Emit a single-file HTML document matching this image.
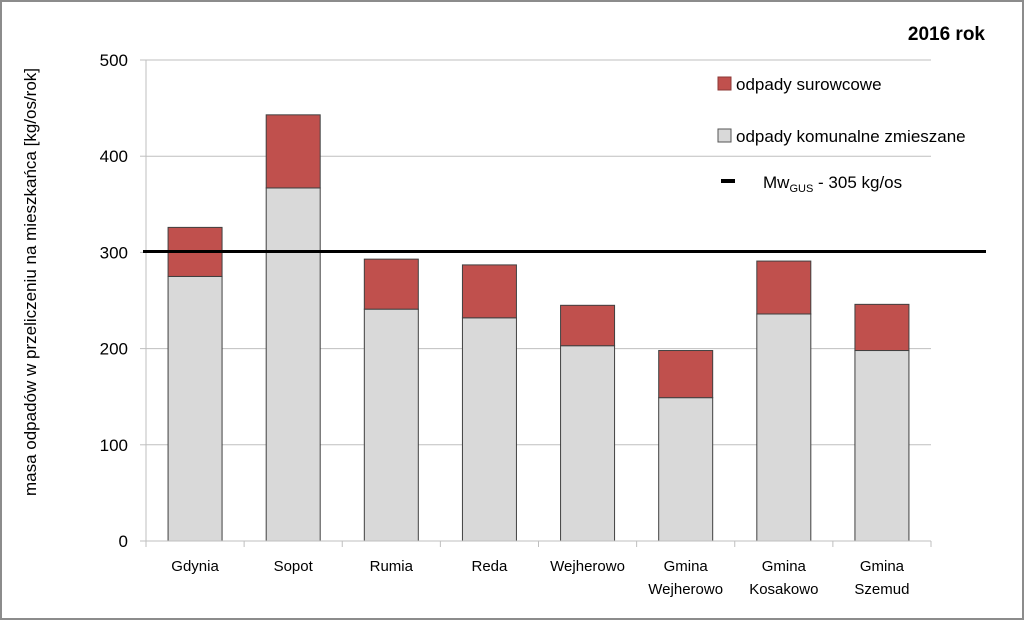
<!DOCTYPE html>
<html><head><meta charset="utf-8"><style>
body{margin:0;background:#fff}
svg{display:block;font-family:"Liberation Sans",sans-serif}
</style></head><body>
<svg id="c" width="1024" height="620" viewBox="0 0 1024 620">
<rect x="1" y="1" width="1022" height="618" fill="#fff" stroke="#8c8c8c" stroke-width="2"/>
<g id="grid"></g><g id="bars"></g><g id="axes"></g>
<text x="985" y="40" text-anchor="end" font-size="19" font-weight="bold" fill="#000">2016 rok</text>
<text transform="translate(36,282) rotate(-90)" text-anchor="middle" font-size="17" fill="#000">masa odpadów w przeliczeniu na mieszkańca  [kg/os/rok]</text>
<g>
<rect x="718" y="77" width="13" height="13" fill="#c0504d" stroke="#8c3836"/>
<text x="736" y="90" font-size="17">odpady surowcowe</text>
<rect x="718" y="129" width="13" height="13" fill="#d9d9d9" stroke="#555"/>
<text x="736" y="142" font-size="17">odpady komunalne zmieszane</text>
<rect x="721" y="179" width="14" height="4" fill="#000"/>
<text x="763" y="188" font-size="17">Mw<tspan font-size="11" dy="4">GUS</tspan><tspan dy="-4"> - 305 kg/os</tspan></text>
</g>
</svg>
<script>
const categories=[["Gdynia"],["Sopot"],["Rumia"],["Reda"],["Wejherowo"],["Gmina","Wejherowo"],["Gmina","Kosakowo"],["Gmina","Szemud"]];
const mixedValues=[275,367,241,232,203,149,236,198];
const recyclableValues=[51,76,52,55,42,49,55,48];
const referenceValue=301;
const yTicks=[0,100,200,300,400,500];
const NS="http://www.w3.org/2000/svg";
const X0=146,X1=931,Y0=541,Y500=60;
const y=v=>Y0-(Y0-Y500)*v/500;
const band=(X1-X0)/categories.length;
const xc=i=>X0+band*(i+0.5);
function mk(tag,attrs,parent){const e=document.createElementNS(NS,tag);for(const k in attrs)e.setAttribute(k,attrs[k]);parent.appendChild(e);return e;}
const grid=document.getElementById('grid'),bars=document.getElementById('bars'),axes=document.getElementById('axes');
yTicks.forEach(t=>{
 if(t>0){const g=mk('line',{x1:X0,x2:X1,y1:y(t),y2:y(t),stroke:'#bfbfbf','stroke-width':1},grid);
 
 }
 const tk=mk('line',{x1:X0-6,x2:X0,y1:y(t),y2:y(t),stroke:'#bfbfbf'},axes);
 
 
 const l=mk('text',{x:X0-18,y:y(t)+6,'text-anchor':'end','font-size':17},axes);l.textContent=t;
 
 
});
const bw=54;
categories.forEach((c,i)=>{
 const cx=xc(i);
 const g=mk('rect',{x:cx-bw/2,y:y(mixedValues[i]),width:bw,height:y(0)-y(mixedValues[i]),fill:'#d9d9d9',stroke:'#404040','stroke-width':1},bars);
 
 
 const top=mixedValues[i]+recyclableValues[i];
 const r=mk('rect',{x:cx-bw/2,y:y(top),width:bw,height:y(mixedValues[i])-y(top),fill:'#c0504d',stroke:'#404040','stroke-width':1},bars);
 
 
 c.forEach((line,j)=>{
  const t=mk('text',{x:cx,y:571+j*23,'text-anchor':'middle','font-size':15},axes);t.textContent=line;
  
  
 });
});
for(let i=0;i<=categories.length;i++){
 const t=mk('line',{x1:X0+band*i,x2:X0+band*i,y1:Y0,y2:Y0+6,stroke:'#bfbfbf'},axes);
 
 
}
const xa=mk('line',{x1:X0,x2:X1,y1:Y0,y2:Y0,stroke:'#bfbfbf'},axes);


const ya=mk('line',{x1:X0,x2:X0,y1:Y500,y2:Y0,stroke:'#bfbfbf'},axes);


const ref=mk('line',{x1:143,x2:986,y1:y(referenceValue),y2:y(referenceValue),stroke:'#000','stroke-width':3},axes);


</script>
</body></html>
